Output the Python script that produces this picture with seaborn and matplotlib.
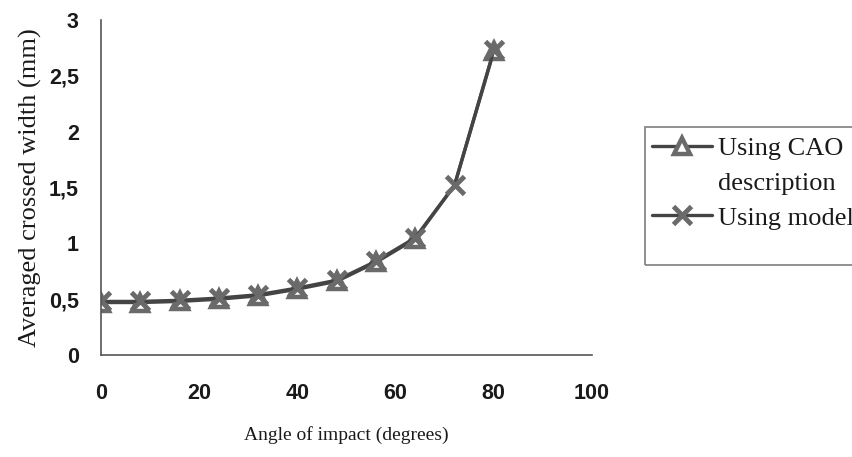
import numpy as np
import pandas as pd
import seaborn as sns
import matplotlib.pyplot as plt
from matplotlib.ticker import FuncFormatter
from matplotlib.patches import Rectangle
from matplotlib.lines import Line2D

# values
angles = [0, 8, 16, 24, 32, 40, 48, 56, 64, 72, 80]
width_cao = [0.47, 0.47, 0.48, 0.50, 0.53, 0.59, 0.66, 0.83, 1.04, 1.52, 2.72]
width_model = [0.48, 0.48, 0.49, 0.51, 0.54, 0.60, 0.67, 0.84, 1.05, 1.52, 2.73]
# the CAO curve shows no marker at 72 degrees
cao_marked = [0, 1, 2, 3, 4, 5, 6, 7, 8, 10]

df = pd.DataFrame({'angle': angles, 'cao': width_cao, 'model': width_model})

sns.set_style('white')
fig, ax = plt.subplots(figsize=(8.53, 4.57), dpi=100)
fig.subplots_adjust(left=0.1184, right=0.694, top=0.956, bottom=0.2232)

line_col = '#444444'
mark_col = '#6a6a6a'
tri_style = dict(color=line_col, lw=2.4, marker='^', markersize=12, markerfacecolor='white',
                 markeredgecolor=mark_col, markeredgewidth=3.2)
x_style = dict(color=line_col, lw=2.4, marker='x', markersize=13,
               markeredgecolor=mark_col, markeredgewidth=3.5)

sns.lineplot(data=df, x='angle', y='cao', ax=ax, markevery=cao_marked, legend=False, **tri_style)
sns.lineplot(data=df, x='angle', y='model', ax=ax, legend=False, **x_style)

ax.set_xlim(0, 100)
ax.set_ylim(0, 3)
ax.set_xticks([0, 20, 40, 60, 80, 100])
ax.set_yticks([0, 0.5, 1, 1.5, 2, 2.5, 3])
ax.yaxis.set_major_formatter(FuncFormatter(lambda v, p: ('%g' % v).replace('.', ',')))

for s in ['top', 'right']:
    ax.spines[s].set_visible(False)
for s in ['left', 'bottom']:
    ax.spines[s].set_color('#555555')
    ax.spines[s].set_linewidth(1.2)

ax.tick_params(axis='both', direction='out', length=8, width=1, color='#888888',
               labelsize=15.5, labelcolor='#1a1a1a')
ax.tick_params(axis='x', pad=12)
ax.tick_params(axis='y', pad=8)
for lab in ax.get_xticklabels() + ax.get_yticklabels():
    lab.set_family('Liberation Sans')
    lab.set_weight('bold')

ax.set_xlabel('Angle of impact (degrees)', family='Liberation Serif', fontsize=14,
              labelpad=16, color='#1a1a1a')
ax.set_ylabel('Averaged crossed width (mm)', family='Liberation Serif', fontsize=19,
              labelpad=5, color='#1a1a1a')

# legend box drawn as a figure rectangle, legend entries placed inside it
fig.patches.append(Rectangle((645 / 853, 1 - 265 / 457), 0.3, (265 - 127) / 457,
                             transform=fig.transFigure, fill=False,
                             edgecolor='#888888', lw=1.3))
handles = [Line2D([], [], **tri_style), Line2D([], [], ls='none'), Line2D([], [], **x_style)]
labels = ['Using CAO', 'description', 'Using model']
leg = ax.legend(handles, labels, loc='upper left', bbox_to_anchor=(652 / 853, 1 - 137 / 457),
                bbox_transform=fig.transFigure, frameon=False, borderpad=0,
                borderaxespad=0, prop={'family': 'Liberation Serif', 'size': 19},
                handlelength=2.27, handletextpad=0.23, labelspacing=0.42)
for t in leg.get_texts():
    t.set_color('#1a1a1a')

fig.savefig('out.png', dpi=100)
